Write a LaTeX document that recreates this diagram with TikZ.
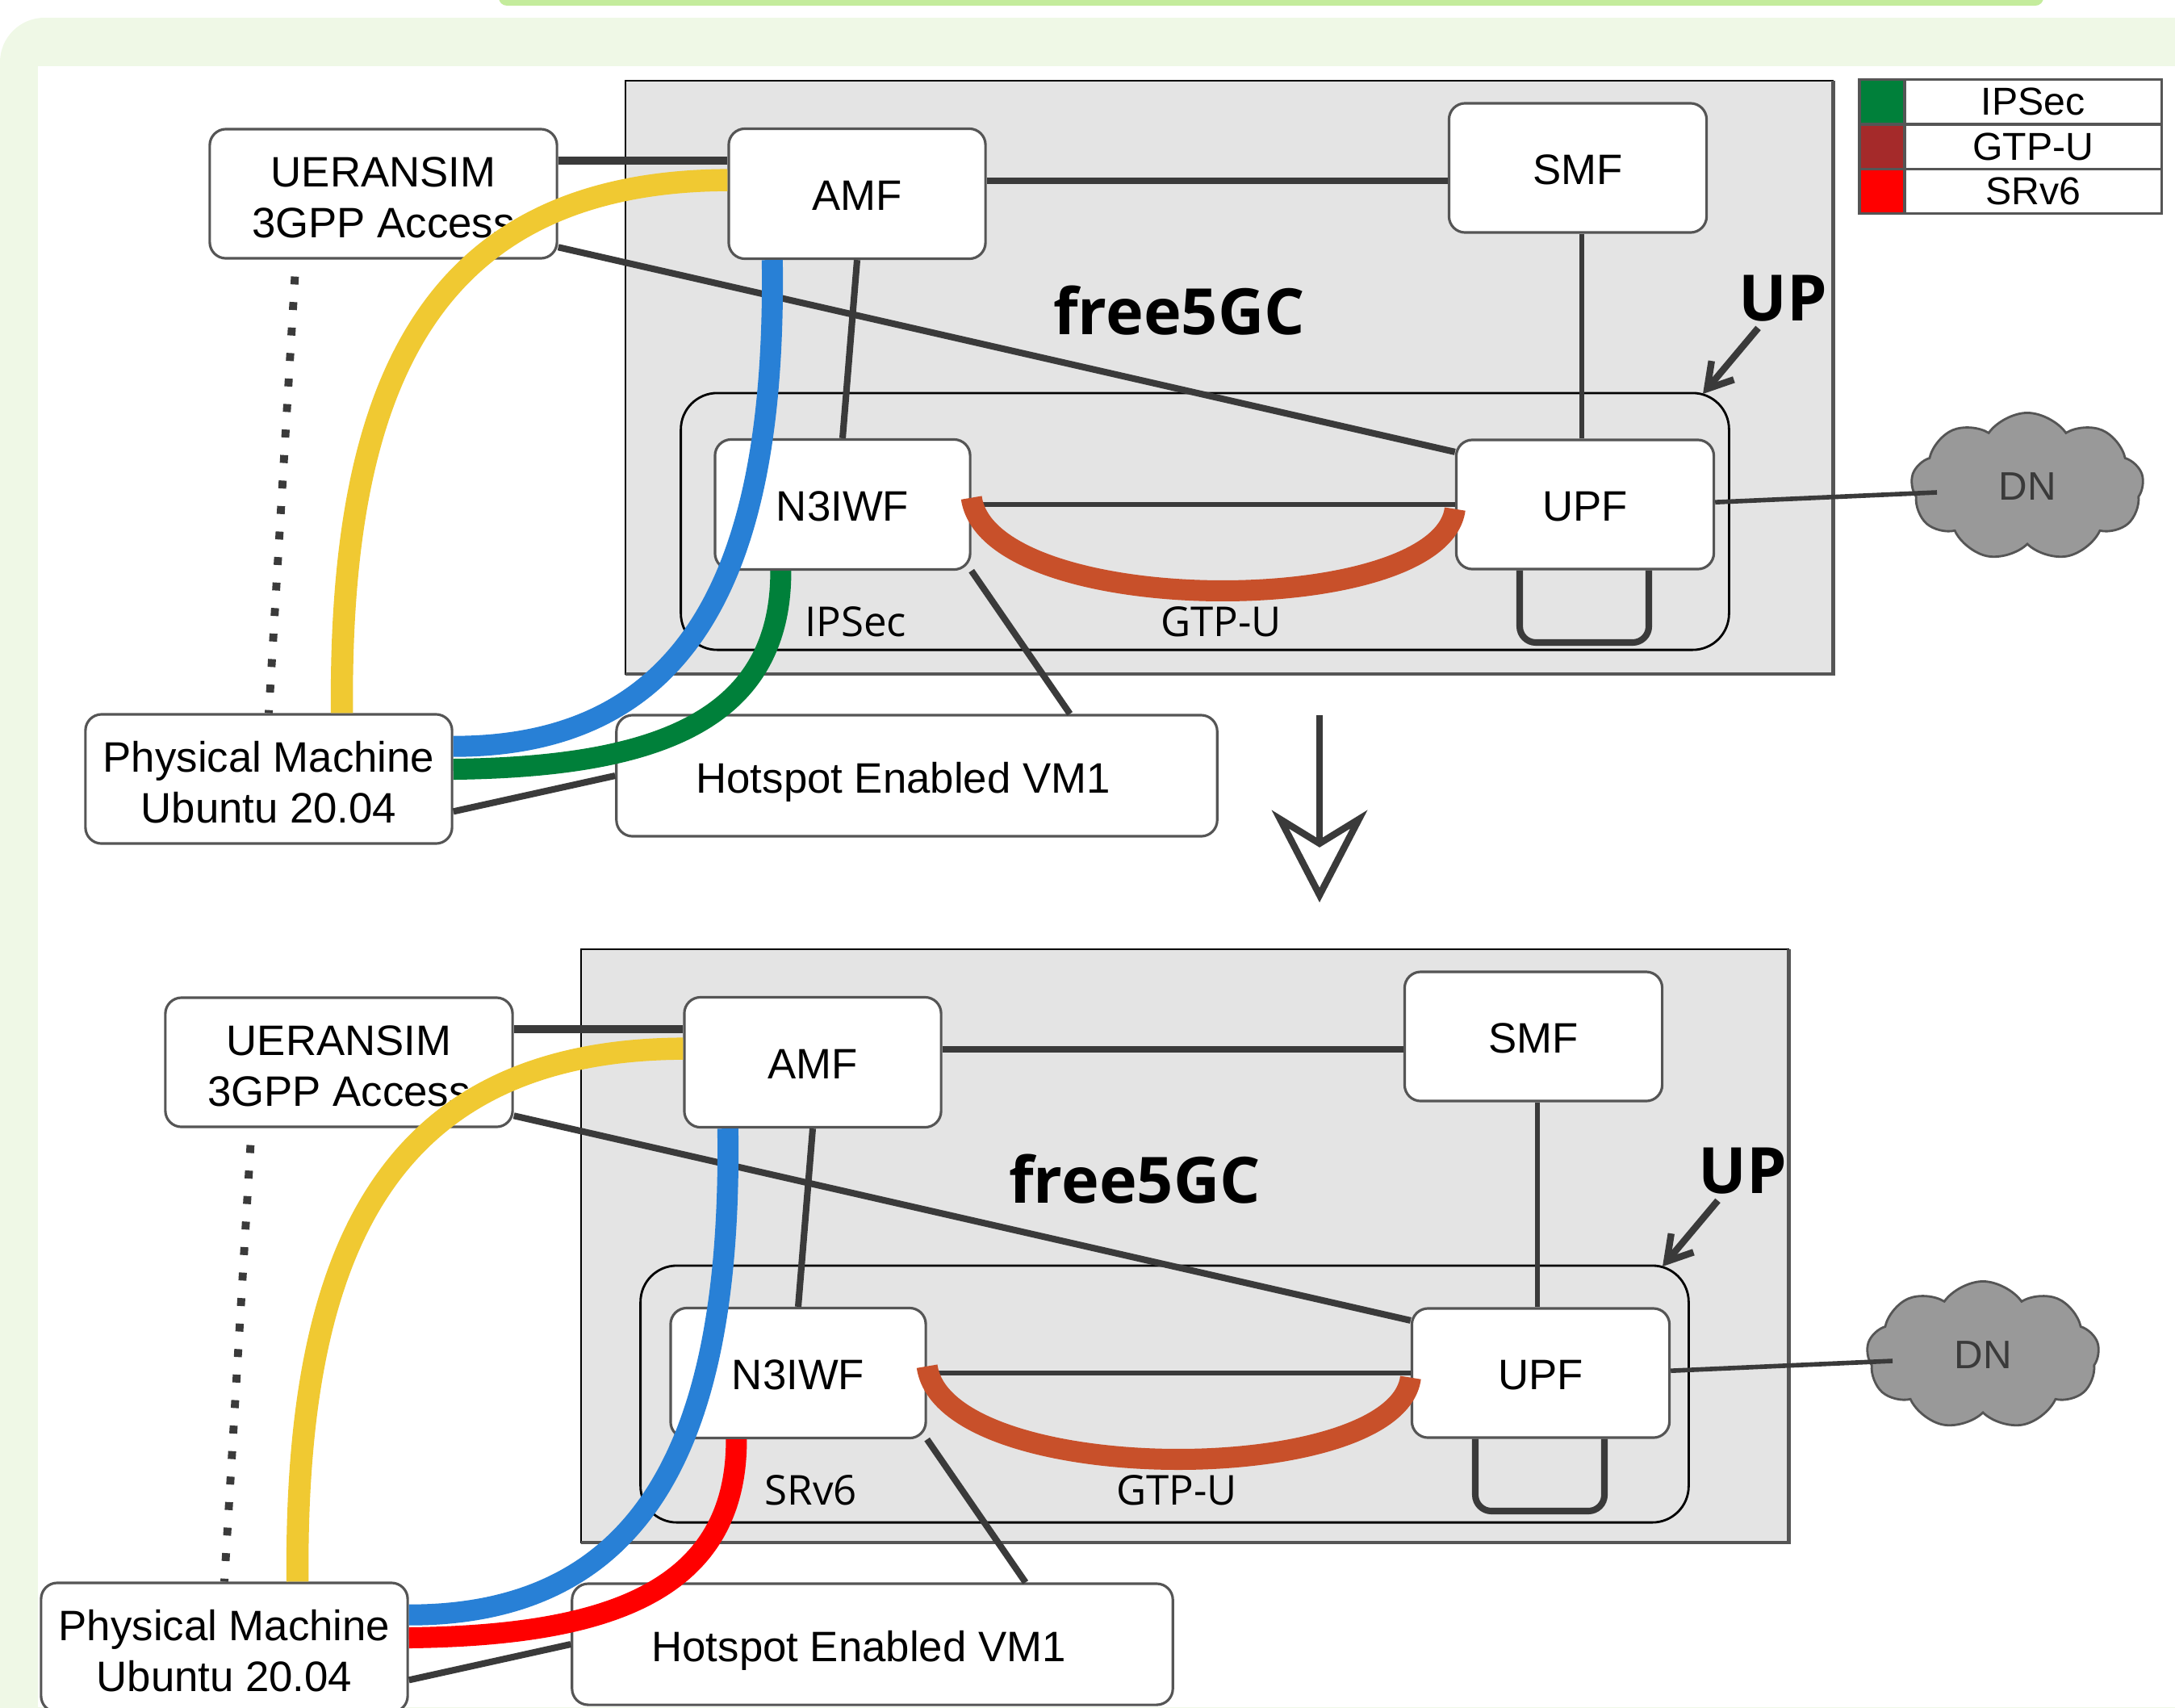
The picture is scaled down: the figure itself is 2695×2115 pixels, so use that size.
\documentclass[tikz,border=0pt]{standalone}
\usepackage{fontspec}
\setmainfont{Liberation Sans}
\newfontfamily\notofont{Open Sans}
\usetikzlibrary{arrows.meta,shapes.symbols}
\definecolor{panelgreen}{HTML}{EFF8E6}
\definecolor{bargreen}{HTML}{C4EC9C}
\definecolor{framegray}{HTML}{E4E4E4}
\definecolor{linkgray}{HTML}{3A3A3A}
\definecolor{edgegray}{HTML}{555555}
\definecolor{cloudgray}{HTML}{999999}
\definecolor{ipsecgreen}{HTML}{00803A}
\definecolor{gtpbrown}{HTML}{A52A2A}
\definecolor{srvred}{HTML}{FF0000}
\definecolor{tubeyellow}{HTML}{F0C932}
\definecolor{tubeblue}{HTML}{2880D6}
\definecolor{tuberust}{HTML}{C8502A}
\begin{document}
\begin{tikzpicture}[x=0.01cm,y=-0.01cm,
    box/.style={draw=edgegray,line width=0.9pt,fill=white,rounded corners=0.2cm,inner sep=0pt,
        align=center,font=\fontsize{15}{18}\selectfont,execute at begin node={\rule{0pt}{11.8pt}}},
    link/.style={draw=linkgray,line width=1.6pt},
    heavylink/.style={draw=linkgray,line width=2.3pt},
    tube/.style={line width=7.4pt},
    tunnellabel/.style={font=\notofont\fontsize{14.5}{17}\selectfont,inner sep=0pt},
    bigword/.style={font=\notofont\bfseries\fontsize{22.5}{26}\selectfont,inner sep=2pt},
    legendcell/.style={draw=edgegray,line width=1pt,minimum height=0.55cm,inner sep=0pt,
        font=\fontsize{13.7}{16}\selectfont}]
    \useasboundingbox (0,0) rectangle (2695,2115);
    \clip (0,0) rectangle (2695,2115);

    % page background
    \fill[panelgreen,rounded corners=0.55cm] (0,22) rectangle (2900,2400);
    \fill[white] (47,82) rectangle (2695,2115);
    \fill[bargreen,rounded corners=0.1cm] (618,-20) rectangle (2532,7);

    % the two deployments
    \foreach \s/\dx/\dy/\ux/\uy/\tun/\lbl in {a/0/0/0/0/ipsecgreen/IPSec,b/-55/1076/5/5/srvred/SRv6} {
        \begin{scope}[shift={(\dx,\dy)}]
            % core frame
            \draw[fill=framegray,draw=black,line width=0.6pt] (775,100) rectangle (2271,835);
            \draw[edgegray,line width=1.4pt] (2271,100) -- (2271,835) -- (775,835);
            \node[draw=black,line width=0.8pt,rounded corners=0.45cm,minimum width=12.98cm,minimum height=3.18cm] (up\s) at (1493+\ux,646+\uy) {};

            % boxes
            \node[box,minimum width=4.3cm,minimum height=1.6cm] (ue\s) at (475,240) {\rule{0pt}{13.4pt}UERANSIM\\3GPP Access};
            \node[box,minimum width=3.18cm,minimum height=1.61cm] (amf\s) at (1062,240) {AMF};
            \node[box,minimum width=3.19cm,minimum height=1.6cm] (smf\s) at (1955,208) {SMF};
            \node[box,minimum width=3.16cm,minimum height=1.61cm] (n3\s) at (1044,625) {N3IWF};
            \node[box,minimum width=3.19cm,minimum height=1.6cm] (upf\s) at (1964,625) {UPF};
            \node[box,minimum width=4.54cm,minimum height=1.6cm] (pm\s) at (333,965) {\rule{0pt}{13.4pt}Physical Machine\\Ubuntu 20.04};
            \node[box,minimum width=7.44cm,minimum height=1.5cm] (vm\s) at (1136,961) {\rule{0pt}{15.6pt}Hotspot Enabled VM1\hspace*{9.6pt}};
            \node[cloud,cloud puffs=9,cloud puff arc=110,aspect=1.55,draw=edgegray,line width=0.8pt,fill=cloudgray,
                minimum width=2.88cm,minimum height=1.83cm,inner sep=0pt,text=linkgray,
                font=\fontsize{14}{17}\selectfont] (dn\s) at (2512,603) {DN};
            \coordinate (dnport\s) at (2400,610);
            \coordinate (uptip\s) at (2110+\ux,488+\uy);

            % plain links
            \draw[heavylink,line width=2.7pt] (ue\s.east |- 0,199) -- (amf\s.west |- 0,199);
            \draw[heavylink] (amf\s.east |- 0,224) -- (smf\s.west |- 0,224);
            \draw[link] (1960,0 |- smf\s.south) -- (1960,0 |- upf\s.north);
            \draw[heavylink] (amf\s.south) -- (n3\s.north);
            \draw[heavylink] (ue\s.-17.5) -- (upf\s.158.8);
            \draw[link] (n3\s.east) -- (upf\s.west);
            \draw[heavylink] (n3\s.south east) -- (vm\s.22);
            \draw[heavylink,rounded corners=0.2cm] (1883,0 |- upf\s.south) -- (1883,796) -- (2043,796) -- (2043,0 |- upf\s.south);
            \draw[link] (upf\s.1.5) -- (dnport\s);
            \draw[heavylink] (pm\s.-10) -- (vm\s.west);
            \draw[linkgray,line width=2.8pt,dash pattern=on 2.8pt off 6.2pt,shorten <=0.21cm] (ue\s.-143.7) -- (pm\s.north);

            % coloured tunnels
            \draw[tube,tubeyellow,line width=7.8pt] (amf\s.174.6) .. controls (530,225) and (420,480) .. (pm\s.42.6);
            \draw[tube,tubeblue] (amf\s.-142.2) .. controls (962,700) and (860,925) .. (pm\s.10);
            \draw[tube,\tun] (n3\s.-133.5) .. controls (968,900) and (800,950) .. (pm\s.3.8);
            \draw[tube,tuberust] (n3\s.3.6) .. controls (1225,768) and (1785,768) .. (upf\s.182);

            % labels
            \node[tunnellabel] (tun\s) at (1060,770) {\lbl};
            \node[tunnellabel] (gtp\s) at (1513,770) {GTP-U};
            \node[bigword] (core\s) at (1461,385) {free5GC};
            \node[bigword] (upname\s) at (2209+\ux,370+\uy) {UP};
            \draw[linkgray,line width=2.4pt,-{Straight Barb[length=0.3cm,width=0.36cm]}] (upname\s.-130) -- (uptip\s);
        \end{scope}
    }

    % arrow between the deployments
    \coordinate (downfrom) at (1635,886);
    \coordinate (downto) at (1635,1118);
    \draw[linkgray,line width=2.4pt,-{Stealth[open,length=1.14cm,width=1.18cm,inset=0.36cm]}] (downfrom) -- (downto);

    % legend
    \foreach \c/\t/\y in {ipsecgreen/IPSec/126,gtpbrown/GTP-U/182,srvred/SRv6/237} {
        \node[legendcell,fill=\c,minimum width=0.56cm] (swatch\c) at (2332,\y) {};
        \node[legendcell,minimum width=3.19cm] (legend\c) at (2519,\y) {\t};
    }
\end{tikzpicture}
\end{document}
